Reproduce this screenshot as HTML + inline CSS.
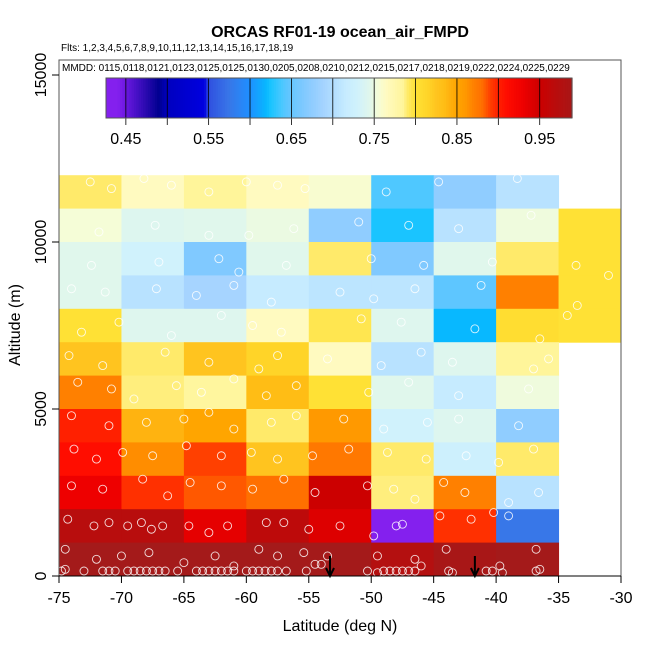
<!DOCTYPE html>
<html><head><meta charset="utf-8"><style>
body{margin:0;background:#fff;font-family:"Liberation Sans",sans-serif;}
svg text{font-family:"Liberation Sans",sans-serif;}
</style></head><body>
<svg id="chart" width="650" height="650" viewBox="0 0 650 650">
<text x="340" y="37" text-anchor="middle" font-size="16" font-weight="bold">ORCAS RF01-19 ocean_air_FMPD</text>
<text x="61" y="51" font-size="10">Flts: 1,2,3,4,5,6,7,8,9,10,11,12,13,14,15,16,17,18,19</text>
<g id="cells"></g>
<g id="pts"></g>
<rect x="59" y="60" width="562" height="516" fill="none" stroke="#555" stroke-width="1"/>
<text x="62" y="71" font-size="10">MMDD: 0115,0118,0121,0123,0125,0125,0130,0205,0208,0210,0212,0215,0217,0218,0219,0222,0224,0225,0229</text>
<g id="legend"></g>
<g id="axes"></g>
<text x="340" y="631" text-anchor="middle" font-size="16">Latitude (deg N)</text>
<text transform="translate(20,325) rotate(-90)" text-anchor="middle" font-size="16">Altitude (m)</text>
</svg>
<script>
const latBins = [-75,-70,-65,-60,-55,-50,-45,-40,-35];
const altBins = [11000,10000,9000,8000,7000,6000,5000,4000,3000,2000,1000,0];
const cellValues = [
 [0.79,0.765,0.785,0.765,0.758,0.64,0.675,0.705,null],
 [0.755,0.742,0.745,0.75,0.675,0.625,0.705,0.752,0.80],
 [0.745,0.73,0.665,0.745,0.79,0.665,0.745,0.79,0.80],
 [0.745,0.705,0.69,0.715,0.708,0.708,0.645,0.87,0.80],
 [0.80,0.743,0.743,0.765,0.795,0.743,0.62,0.805,0.80],
 [0.825,0.79,0.825,0.815,0.765,0.705,0.743,0.785,null],
 [0.87,0.788,0.783,0.835,0.80,0.745,0.715,0.752,null],
 [0.90,0.84,0.85,0.79,0.86,0.73,0.742,0.675,null],
 [0.91,0.865,0.89,0.825,0.875,0.79,0.725,0.79,null],
 [0.93,0.895,0.885,0.88,0.95,0.788,0.87,0.705,null],
 [0.97,0.97,0.935,0.965,0.94,0.44,0.895,0.575,null],
 [0.995,0.995,0.995,0.995,0.995,0.975,0.99,0.995,null]
];
const colorStops = [0.44,0.45,0.49,0.50,0.545,0.55,0.575,0.60,0.62,0.625,0.64,0.645,0.665,0.675,0.69,0.705,0.715,0.73,0.745,0.755,0.765,0.785,0.79,0.80,0.815,0.825,0.835,0.84,0.85,0.86,0.87,0.88,0.89,0.90,0.91,0.93,0.95,0.97,1.0];
const colorHex = ["#8420ee","#6a18e0","#000090","#0000c0","#0000e0","#3050e0","#3877e8","#1e90ff","#08b8ff","#1ac4ff","#4fc8ff","#5ec6ff","#80c9ff","#90cdff","#a6d4ff","#b8e2ff","#c6ebff","#d0f2fc","#e0f7ec","#f5fdd7","#fffac0","#fff59a","#ffea6a","#ffe135","#ffd428","#ffc41f","#ffbd15","#ffb310","#ffa500","#ff9900","#ff8000","#ff7000","#ff4000","#ff2000","#ff0d00","#ee0000","#cc0000","#b80d0d","#a01c1c"];
const legendTicks = [0.45,0.55,0.65,0.75,0.85,0.95];
const xTicks = [-75,-70,-65,-60,-55,-50,-45,-40,-35,-30];
const yTicks = [0,5000,10000,15000];
const pointLat = [-74.8,-74.5,-73,-71.5,-71,-70.5,-69.5,-69,-68.5,-68,-67.5,-67,-66.5,-65.5,-64,-63.5,-63,-62.5,-62,-61.5,-61,-60,-59.5,-59,-58.5,-58,-57.5,-56.8,-55.2,-54.5,-54,-50.3,-49.5,-49,-48.5,-48,-47.5,-47,-46.5,-46,-43.8,-43.5,-40.8,-40.3,-39.5,-36.8,-36.5,
 -74.5,-72,-70,-67.8,-65,-62.5,-61,-59,-57.5,-55.4,-53.5,-49.5,-46.5,-44,-39.7,-36.8,
 -74.3,-72.2,-71,-69.5,-68.4,-67.6,-66.7,-64.6,-63,-61.5,-58.4,-57,-55,-52.5,-49.8,-48,-47.5,-44.5,-42,-40.2,-39,
 -74,-71.5,-68.3,-66.3,-64.5,-62,-59.5,-57,-54.5,-50.3,-48.2,-46.5,-44.2,-42.5,-39,-36.6,
 -73.8,-72,-69.9,-67.5,-64.8,-62,-59.6,-57.5,-54.7,-51.8,-48.7,-45.6,-42.4,-39.8,-37,
 -74,-71,-68,-65,-63,-61,-58,-56,-52.2,-49,-45.5,-43,-38.2,
 -73.5,-70.8,-69,-65.6,-63.6,-61,-58.4,-56,-50.2,-47,-43,-37.4,
 -74.2,-71.5,-66.5,-63,-59,-57.5,-53.5,-49.2,-46,-43.5,-37,-35.8,
 -73.2,-70.2,-66,-62,-59.5,-57.2,-50.8,-47.6,-41.7,-36.5,-34.3,
 -74,-71.3,-67.2,-64,-61,-58,-52.5,-49.8,-46.5,-41.2,-33.5,
 -72.4,-67,-62.2,-60.6,-56.8,-50,-45.8,-40.3,-33.6,-31,
 -71.8,-67.3,-63,-59.8,-56.2,-51,-47,-43,-37.2,
 -72.5,-70.8,-68.2,-66,-63,-60,-57.5,-55.3,-48.8,-44.6,-38.3];
const pointAlt = [150,200,150,150,150,150,150,150,150,150,150,150,150,150,150,150,150,150,150,150,150,150,150,150,150,150,150,150,150,350,350,150,100,150,150,150,150,150,150,300,150,100,150,150,100,150,200,
 800,500,600,700,400,600,300,800,600,700,600,600,500,800,300,800,
 1700,1500,1600,1500,1600,1400,1500,1500,1300,1500,1600,1600,1400,1500,1200,1500,1550,1800,1700,1900,1800,
 2700,2600,2900,2400,2800,2700,2600,2900,2500,2700,2600,2300,2800,2500,2200,2500,
 3800,3500,3700,3600,3900,3600,3700,3500,3600,3800,3700,3500,3600,3400,3800,
 4800,4500,4600,4700,4900,4400,4600,4800,4700,4400,4600,4700,4500,
 5800,5600,5300,5700,5500,5900,5400,5700,5500,5800,5400,5600,
 6600,6300,6700,6400,6200,6600,6500,6300,6700,6400,6200,6500,
 7300,7600,7200,7800,7500,7300,7700,7600,7400,7100,7800,
 8600,8500,8600,8400,8700,8200,8500,8300,8600,8700,8100,
 9300,9400,9500,9100,9300,9500,9300,9400,9300,9000,
 10300,10500,10200,10200,10400,10600,10500,10400,10800,
 11800,11600,11900,11700,11500,11800,11700,11600,11500,11800,11900];

const X0=59,X1=621,Y0=576,Y1=75;
const xs = v => X0 + (v+75)/45*(X1-X0);
const ys = v => Y0 - v/15000*(Y0-Y1);
function hex2rgb(h){return [parseInt(h.slice(1,3),16),parseInt(h.slice(3,5),16),parseInt(h.slice(5,7),16)];}
function colorFor(v){
  if(v<=colorStops[0]) return colorHex[0];
  for(let i=1;i<colorStops.length;i++){
    if(v<=colorStops[i]){
      const t=(v-colorStops[i-1])/(colorStops[i]-colorStops[i-1]);
      const a=hex2rgb(colorHex[i-1]),b=hex2rgb(colorHex[i]);
      return `rgb(${a.map((c,k)=>Math.round(c+(b[k]-c)*t)).join(',')})`;
    }
  }
  return colorHex[colorHex.length-1];
}
const NS="http://www.w3.org/2000/svg";
function mk(tag,attrs,parent){const e=document.createElementNS(NS,tag);for(const k in attrs)e.setAttribute(k,attrs[k]);parent.appendChild(e);return e;}
const cells=document.getElementById('cells');
cellValues.forEach((row,r)=>row.forEach((v,c)=>{
  if(v===null) return;
  const x=xs(latBins[c]),x2=xs(latBins[c]+5),y=ys(altBins[r]+1000),y2=ys(altBins[r]);
  const e=mk('rect',{x:x,y:y,width:x2-x+0.5,height:y2-y+0.5,fill:colorFor(v)},cells);
  
  
}));
const pts=document.getElementById('pts');
pointLat.forEach((la,i)=>{
  const e=mk('circle',{cx:xs(la),cy:ys(pointAlt[i]),r:4,fill:'none',stroke:'#fff','stroke-width':0.9,opacity:0.85},pts);
  
  
});
[-53.3,-41.7].forEach(la=>{
  const g=mk('g',{},pts);
  
  
  mk('line',{x1:xs(la),y1:556,x2:xs(la),y2:575,stroke:'#000','stroke-width':2},g);
  mk('path',{d:`M${xs(la)-4},568 L${xs(la)},576 L${xs(la)+4},568`,fill:'none',stroke:'#000','stroke-width':2},g);
});
// legend
const lg=document.getElementById('legend');
const LX0=106,LX1=572,LV0=0.426,LV1=0.989,LY0=78,LY1=118;
const lx=v=>LX0+(v-LV0)/(LV1-LV0)*(LX1-LX0);
for(let i=0;i<200;i++){
  const v0=LV0+(LV1-LV0)*i/200;
  mk('rect',{x:lx(v0),y:LY0,width:(LX1-LX0)/200+0.6,height:LY1-LY0,fill:colorFor(v0+(LV1-LV0)/400)},lg);
}
for(let v=0.45;v<0.99;v+=0.05){
  mk('line',{x1:lx(v),y1:LY0,x2:lx(v),y2:LY1+7,stroke:'#000','stroke-width':0.8},lg);
}
mk('rect',{x:LX0,y:LY0,width:LX1-LX0,height:LY1-LY0,fill:'none',stroke:'#555','stroke-width':1},lg);
legendTicks.forEach(v=>{
  const t=mk('text',{x:lx(v),y:144,'text-anchor':'middle','font-size':16},lg);
  t.textContent=v.toFixed(2);
  
  
});
// axes
const ax=document.getElementById('axes');
mk('line',{x1:X0,y1:576,x2:X1,y2:576,stroke:'#000'},ax);
xTicks.forEach(v=>{
  mk('line',{x1:xs(v),y1:576,x2:xs(v),y2:583,stroke:'#000'},ax);
  const t=mk('text',{x:xs(v),y:603,'text-anchor':'middle','font-size':16},ax);
  t.textContent=v;
  
  
});
yTicks.forEach(v=>{
  mk('line',{x1:X0-7,y1:ys(v),x2:X0,y2:ys(v),stroke:'#000'},ax);
  const t=mk('text',{transform:`translate(46,${ys(v)}) rotate(-90)`,'text-anchor':'middle','font-size':16},ax);
  t.textContent=v;
  
  
});
</script>
</body></html>
